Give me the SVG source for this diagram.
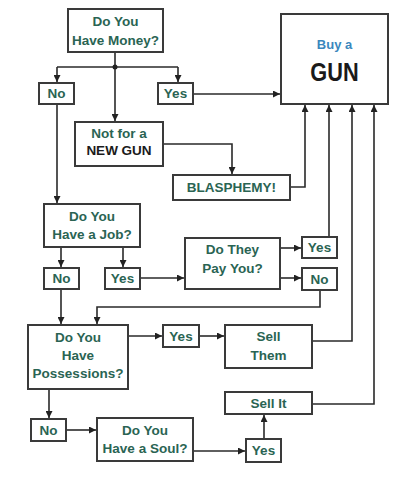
<svg xmlns="http://www.w3.org/2000/svg" width="416" height="500" viewBox="0 0 416 500">
<defs>
<marker id="ah" viewBox="0 0 10 10" refX="10" refY="5" markerWidth="7" markerHeight="7" markerUnits="userSpaceOnUse" orient="auto">
<path d="M0,0 L10,5 L0,10 z" fill="#222"/>
</marker>
<style>
.box{fill:#fff;stroke:#3a3a3a;stroke-width:2}
.t{font-family:"Liberation Sans",Arial,sans-serif;font-weight:bold;font-size:13.5px;fill:#2a6453;text-anchor:middle}
.k{fill:#1a1a1a}
.c{fill:none;stroke:#2a2a2a;stroke-width:1.6}
.a{marker-end:url(#ah)}
</style>
</defs>
<rect width="416" height="500" fill="#fff"/>
<g id="connectors">
<path class="c a" d="M115,52 V121"/>
<path class="c" d="M57,67 H178"/>
<path class="c a" d="M57,67 V82"/>
<path class="c a" d="M178,67 V82"/>
<circle cx="115" cy="67" r="2.5" fill="#222"/>
<path class="c a" d="M193,94 H280"/>
<path class="c a" d="M57,104 V203"/>
<path class="c a" d="M163,144 H232 V174"/>
<path class="c a" d="M290,187 H305 V105"/>
<path class="c a" d="M61,247 V267"/>
<path class="c a" d="M123,247 V267"/>
<path class="c a" d="M140,278 H184"/>
<path class="c a" d="M280,248 H301"/>
<path class="c a" d="M280,278 H301"/>
<path class="c a" d="M329,237 V105"/>
<path class="c a" d="M320,290 V307 H97 V324"/>
<path class="c a" d="M61,289 V324"/>
<path class="c a" d="M128,336 H162"/>
<path class="c a" d="M199,336 H224"/>
<path class="c a" d="M312,341 H352 V105"/>
<path class="c a" d="M49,389 V418"/>
<path class="c a" d="M66,430 H96"/>
<path class="c a" d="M193,451 H245"/>
<path class="c a" d="M264,439 V415"/>
<path class="c a" d="M312,404 H374 V105"/>
</g>
<g id="money"><rect class="box" x="68" y="9" width="95" height="43"/><text class="t" x="115.5" y="26">Do You</text><text class="t" x="115.5" y="45">Have Money?</text></g>
<g id="no1"><rect class="box" x="39" y="83" width="35" height="21"/><text class="t" x="56.5" y="98">No</text></g>
<g id="yes1"><rect class="box" x="158" y="83" width="35" height="21"/><text class="t" x="175.5" y="98">Yes</text></g>
<g id="gun"><rect class="box" x="281" y="14" width="107" height="90"/><text class="t" x="334.5" y="49" style="fill:#3a87bd;font-size:13px">Buy a</text><text class="t k" transform="translate(334.5,81) scale(0.87,1)" x="0" y="0" style="font-size:25px">GUN</text></g>
<g id="notnew"><rect class="box" x="75" y="122" width="88" height="44"/><text class="t" x="119" y="138">Not for a</text><text class="t k" x="119" y="155">NEW GUN</text></g>
<g id="blasphemy"><rect class="box" x="173" y="175" width="117" height="25"/><text class="t" x="231.5" y="192">BLASPHEMY!</text></g>
<g id="job"><rect class="box" x="44" y="204" width="96" height="43"/><text class="t" x="92" y="221">Do You</text><text class="t" x="92" y="239">Have a Job?</text></g>
<g id="no2"><rect class="box" x="44" y="268" width="35" height="21"/><text class="t" x="61.5" y="283">No</text></g>
<g id="yes2"><rect class="box" x="105" y="268" width="35" height="21"/><text class="t" x="122.5" y="283">Yes</text></g>
<g id="pay"><rect class="box" x="185" y="238" width="95" height="51"/><text class="t" x="232.5" y="254">Do They</text><text class="t" x="232.5" y="273">Pay You?</text></g>
<g id="yes3"><rect class="box" x="302" y="237" width="35" height="21"/><text class="t" x="319.5" y="252">Yes</text></g>
<g id="no3"><rect class="box" x="302" y="268" width="35" height="22"/><text class="t" x="319.5" y="284">No</text></g>
<g id="possessions"><rect class="box" x="28" y="325" width="100" height="64"/><text class="t" x="78" y="342">Do You</text><text class="t" x="78" y="360">Have</text><text class="t" x="78" y="378">Possessions?</text></g>
<g id="yes4"><rect class="box" x="163" y="325" width="36" height="22"/><text class="t" x="181" y="341">Yes</text></g>
<g id="sellthem"><rect class="box" x="225" y="325" width="87" height="43"/><text class="t" x="268.5" y="341">Sell</text><text class="t" x="268.5" y="360">Them</text></g>
<g id="no4"><rect class="box" x="31" y="419" width="35" height="22"/><text class="t" x="48.5" y="435">No</text></g>
<g id="soul"><rect class="box" x="97" y="418" width="96" height="43"/><text class="t" x="145" y="435">Do You</text><text class="t" x="145" y="453">Have a Soul?</text></g>
<g id="sellit"><rect class="box" x="225" y="392" width="87" height="22"/><text class="t" x="268.5" y="408">Sell It</text></g>
<g id="yes5"><rect class="box" x="246" y="439" width="35" height="23"/><text class="t" x="263.5" y="455">Yes</text></g>
</svg>
